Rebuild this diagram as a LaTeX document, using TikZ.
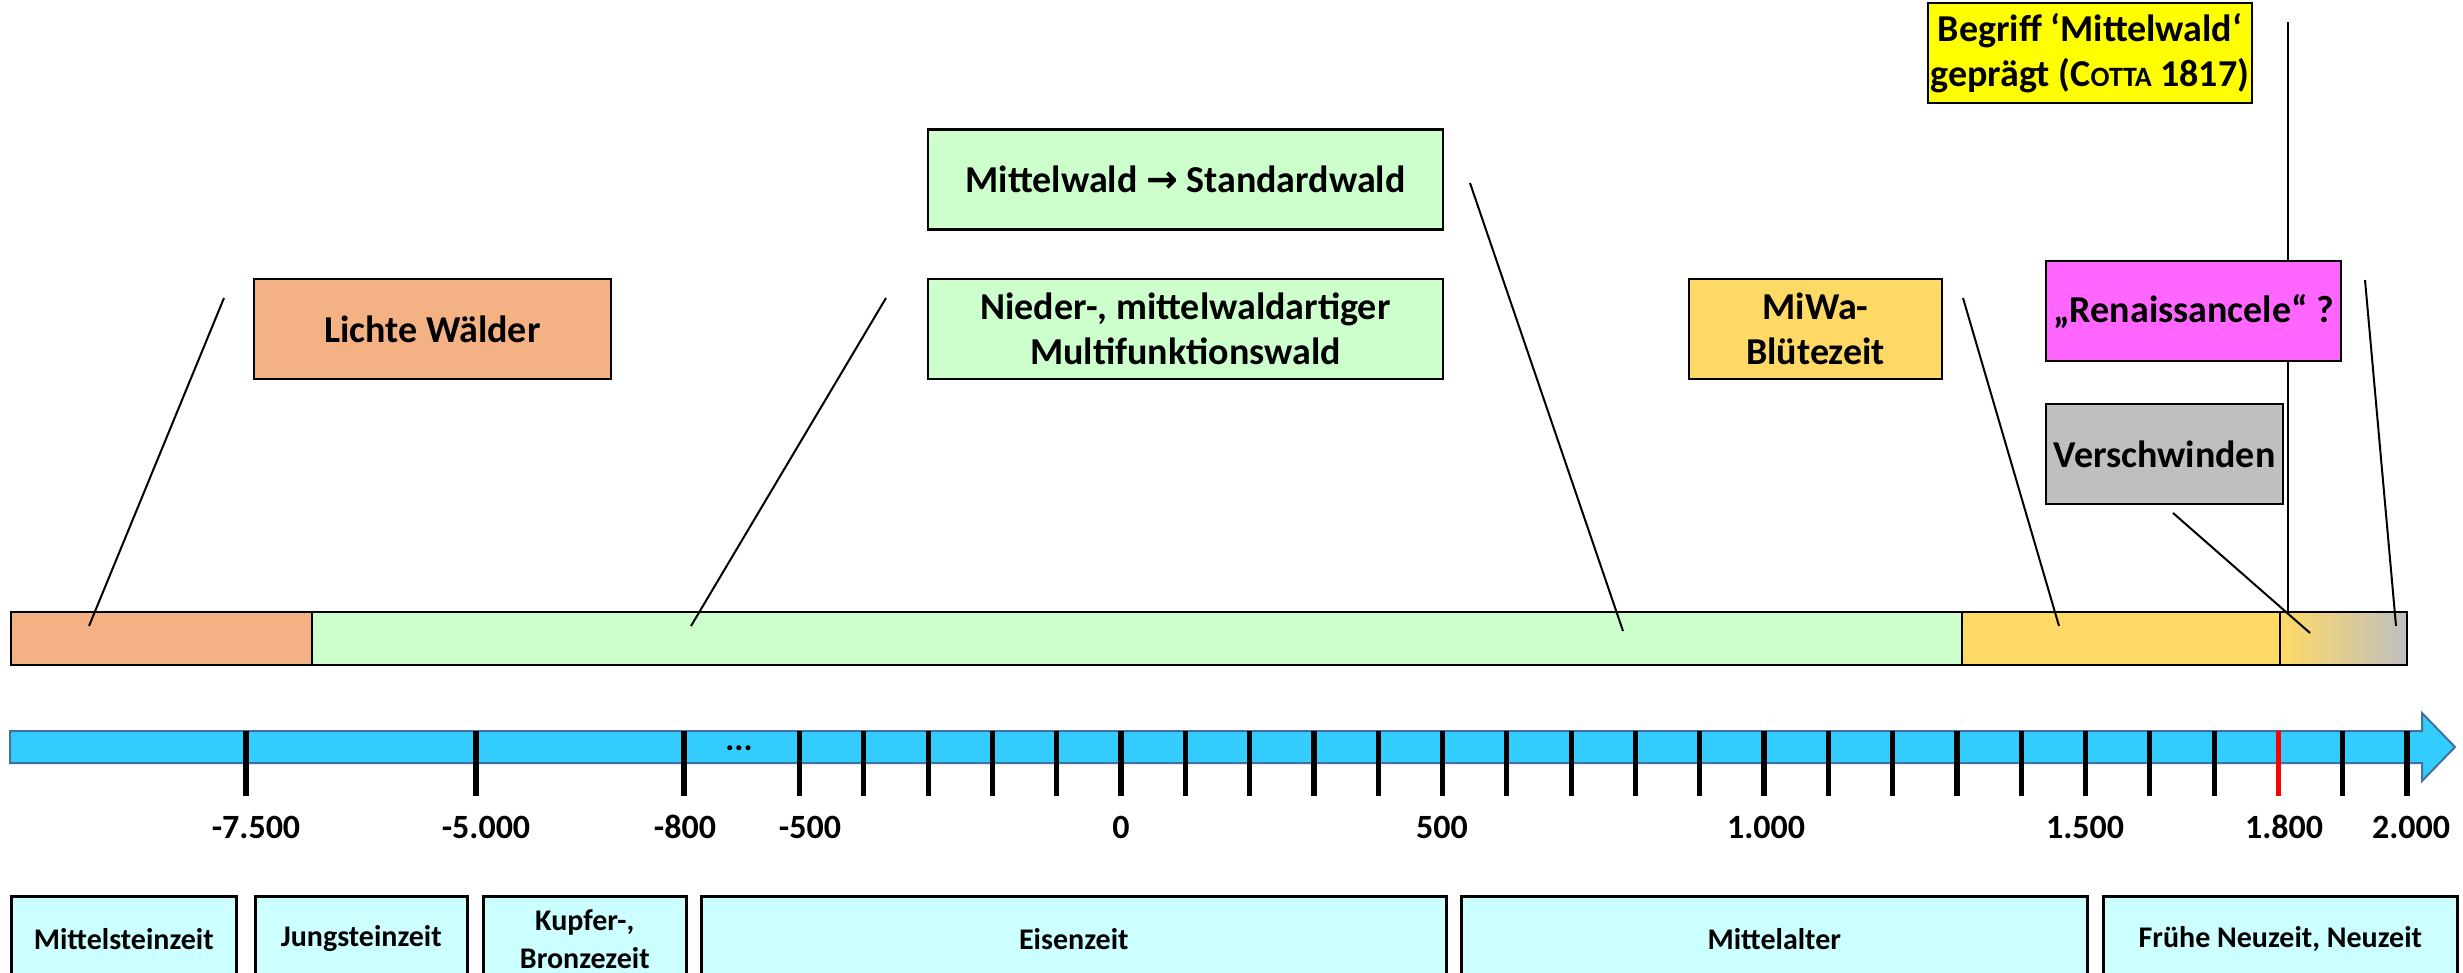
\documentclass[tikz,border=0pt]{standalone}
\usepackage{fontspec}
\setmainfont{Carlito}
\newfontfamily\symfont{DejaVu Sans}
\usepackage{tikz}
\usetikzlibrary{positioning}
\definecolor{licht}{HTML}{F4B183}
\definecolor{multi}{HTML}{CCFFCC}
\definecolor{miwa}{HTML}{FFD966}
\definecolor{gelb}{HTML}{FFFF00}
\definecolor{rosa}{HTML}{FF66FF}
\definecolor{grau}{HTML}{BFBFBF}
\definecolor{achse}{HTML}{33CCFF}
\definecolor{achsrand}{HTML}{41719C}
\definecolor{epoche}{HTML}{CCFFFF}
\tikzset{
  topbox/.style={rectangle, draw=black, line width=1.3pt, inner sep=0pt, align=center, minimum height=50pt, font=\fontsize{19}{22.5}\selectfont\bfseries},
  barseg/.style={rectangle, draw=black, line width=1pt, inner sep=0pt, anchor=north west, minimum height=26.5pt},
  epoch/.style={rectangle, draw=black, line width=1.3pt, fill=epoche, inner sep=0pt, anchor=north west, align=center, minimum height=42.5pt, font=\fontsize{15}{19}\selectfont\bfseries},
  yearlabel/.style={inner sep=0pt, font=\fontsize{17}{19}\selectfont\bfseries},
  yeartick/.style={line width=2.6pt},
  callout/.style={line width=1pt}
}

\begin{document}
\begin{tikzpicture}[x=0.5pt, y=-0.5pt]
    \useasboundingbox (0,0) rectangle (2463,973);
    \clip (0,0) rectangle (2463,973);

    % Balken der Waldformen
    \node (bar1) [barseg, fill=licht, minimum width=150.5pt] at (10,611) {};
    \node (bar2) [barseg, fill=multi, minimum width=825pt] at (311,611) {};
    \node (bar3) [barseg, fill=miwa, minimum width=159pt] at (1961,611) {};
    \node (bar4) [barseg, left color=miwa, right color=grau, minimum width=63.5pt] at (2279,611) {};

    % Zeitachse
    \draw [fill=achse, draw=achsrand, line width=1pt] (10,731) -- (2422,731) -- (2422,713) -- (2455,747) -- (2422,781) -- (2422,763) -- (10,763) -- cycle;
    \foreach \tx in {246,476,684}
        \draw [yeartick] (\tx,731) -- (\tx,796);
    \foreach \j in {-5,...,17,19,20}
        \draw [yeartick] ({1121+64.3*\j},731) -- ({1121+64.3*\j},796);
    \draw [yeartick, red] ({1121+64.3*18},731) -- ({1121+64.3*18},796);
    \node (dots) [yearlabel] at (739,748) {...};

    \node (y7500) [yearlabel] at (256,827) {-7.500};
    \node (y5000) [yearlabel] at (486,827) {-5.000};
    \node (y800) [yearlabel] at (685,827) {-800};
    \node (y500) [yearlabel] at (810,827) {-500};
    \node (y0) [yearlabel] at (1121,827) {0};
    \node (p500) [yearlabel] at (1442,827) {500};
    \node (p1000) [yearlabel] at (1766,827) {1.000};
    \node (p1500) [yearlabel] at (2085,827) {1.500};
    \node (p1800) [yearlabel] at (2284,827) {1.800};
    \node (p2000) [yearlabel] at (2411,827) {2.000};

    % Epochen
    \node (ep1) [epoch, minimum width=112.5pt] at (10,895) {Mittelsteinzeit};
    \node (ep2) [epoch, minimum width=106pt] at (254,895) {Jungsteinzeit};
    \node (ep3) [epoch, minimum width=101.5pt] at (482,895) {Kupfer-,\\Bronzezeit};
    \node (ep4) [epoch, minimum width=372.5pt] at (700,895) {Eisenzeit};
    \node (ep5) [epoch, minimum width=313pt] at (1460,895) {Mittelalter};
    \node (ep6) [epoch, minimum width=177pt] at (2102,895) {Frühe Neuzeit, Neuzeit};

    % Hinweislinien
    \coordinate (lichteA) at (224,298);   \coordinate (lichteB) at (89,626);
    \coordinate (niederA) at (886,298);   \coordinate (niederB) at (691,626);
    \coordinate (standA) at (1470,183);   \coordinate (standB) at (1623,631);
    \coordinate (miwaA) at (1963,298);    \coordinate (miwaB) at (2059,626);
    \coordinate (begriffA) at (2288,22);  \coordinate (begriffB) at (2288,611);
    \coordinate (renA) at (2365,280);     \coordinate (renB) at (2396,626);
    \coordinate (verA) at (2173,513);     \coordinate (verB) at (2310,633);
    \draw [callout] (lichteA) -- (lichteB);
    \draw [callout] (niederA) -- (niederB);
    \draw [callout] (standA) -- (standB);
    \draw [callout] (miwaA) -- (miwaB);
    \draw [callout] (begriffA) -- (begriffB);
    \draw [callout] (renA) -- (renB);
    \draw [callout] (verA) -- (verB);

    % Beschriftungen
    \node (lichte) [topbox, fill=licht, minimum width=178.5pt] at (432.5,329) {Lichte Wälder};
    \node (nieder) [topbox, fill=multi, minimum width=257.5pt] at (1185.5,329) {Nieder-, mittelwaldartiger\\Multifunktionswald};
    \node (standard) [topbox, fill=multi, minimum width=257.5pt] at (1185.5,179.5) {Mittelwald {\symfont\bfseries →} Standardwald};
    \node (miwa) [topbox, fill=miwa, minimum width=126.5pt] at (1815.5,329) {MiWa-\\Blütezeit};
    \node (begriff) [topbox, fill=gelb, minimum width=162pt] at (2090,53) {Begriff ‘Mittelwald‘\\geprägt (C{\fontsize{14}{14}\selectfont OTTA} 1817)};
    \node (renaissance) [topbox, fill=rosa, minimum width=147.5pt] at (2193.5,311) {„Renaissancele“ ?};
    \node (verschw) [topbox, fill=grau, minimum width=118.5pt] at (2164.5,454) {Verschwinden};
\end{tikzpicture}
\end{document}
